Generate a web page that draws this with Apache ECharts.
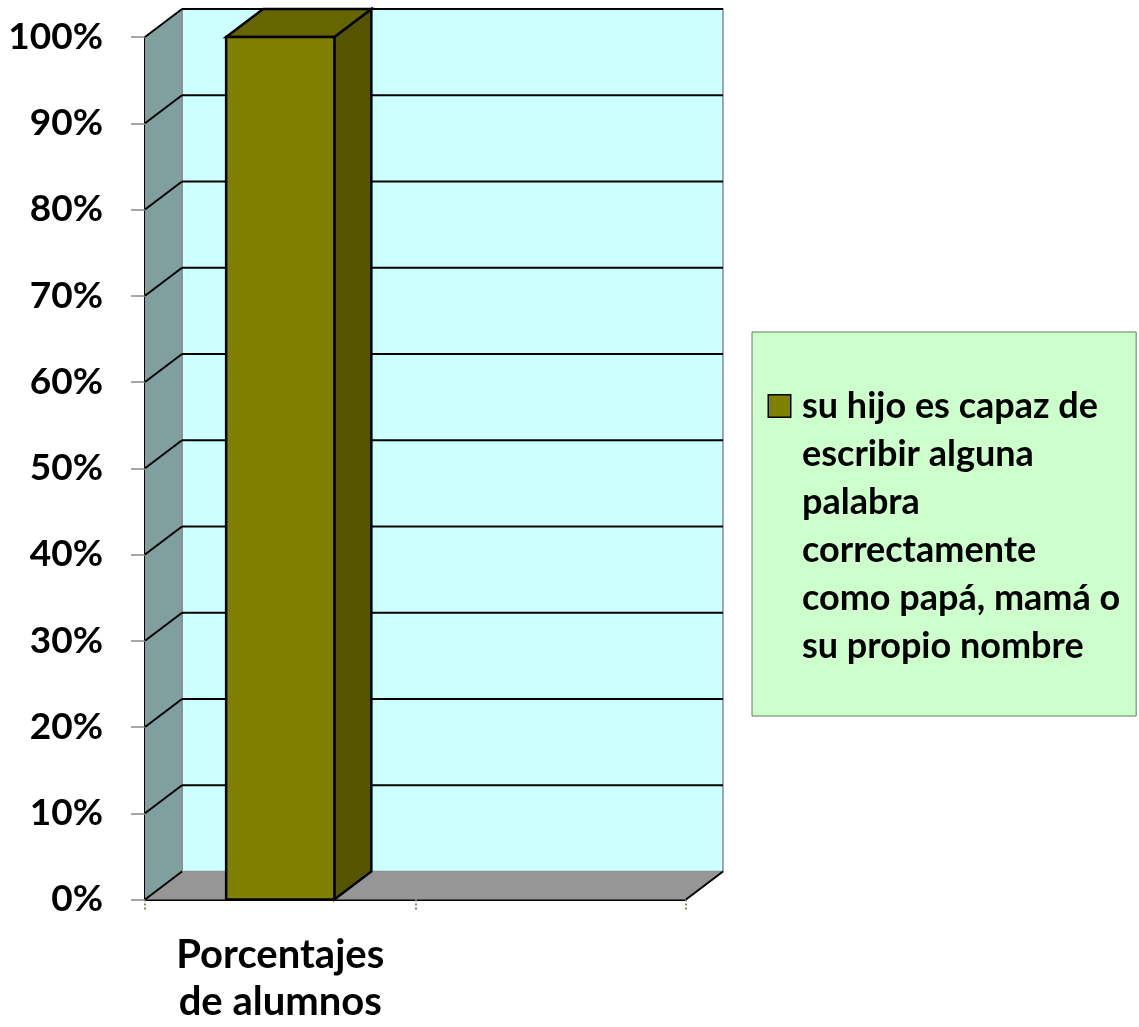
<!DOCTYPE html>
<html>
<head>
<meta charset="utf-8">
<script src="https://cdn.jsdelivr.net/npm/echarts@6/dist/echarts.min.js"></script>
<style>
html,body{margin:0;padding:0;background:#fff;}
#main{width:1139px;height:1027px;}
</style>
</head>
<body>
<div id="main"></div>
<script>
// ---- data ----
const categories = ['Porcentajes\nde alumnos', ''];
const seriesName = 'su hijo es capaz de escribir alguna palabra correctamente como papá, mamá o su propio nombre';
const legendLines = ['su hijo es capaz de', 'escribir alguna', 'palabra', 'correctamente', 'como papá, mamá o', 'su propio nombre'];
const values = [1.0, null];
const yTicks = [0, 0.1, 0.2, 0.3, 0.4, 0.5, 0.6, 0.7, 0.8, 0.9, 1.0];
const yTickLabels = ['0%', '10%', '20%', '30%', '40%', '50%', '60%', '70%', '80%', '90%', '100%'];

// ---- style ----
const DX = 37, DY = -28;
const FONT = 'Lato';

const chart = echarts.init(document.getElementById('main'), null, {renderer: 'canvas'});

function wallsRender(params, api) {
  const cs = params.coordSys;
  const x0 = cs.x, x1 = cs.x + cs.width;
  const yb = api.coord([0, 0])[1];
  const yt = api.coord([0, 1])[1];
  const children = [];
  children.push({type: 'polygon', shape: {points: [[x0 + DX, yt + DY], [x1 + DX, yt + DY], [x1 + DX, yb + DY], [x0 + DX, yb + DY]]},
    style: {fill: '#CCFFFF', stroke: '#8a8a8a', lineWidth: 1.5}});
  children.push({type: 'polygon', shape: {points: [[x0, yt], [x0 + DX, yt + DY], [x0 + DX, yb + DY], [x0, yb]]},
    style: {fill: '#80A0A0', stroke: null}});
  children.push({type: 'polygon', shape: {points: [[x0, yb], [x0 + DX, yb + DY], [x1 + DX, yb + DY], [x1, yb]]},
    style: {fill: '#969696', stroke: null}});
  children.push({type: 'line', shape: {x1: x0 + DX, y1: yt + DY, x2: x0 + DX, y2: yb + DY}, style: {stroke: '#8a8a8a', lineWidth: 1.5}});
  yTicks.forEach(function (v) {
    const y = api.coord([0, v])[1];
    if (v > 0) {
      children.push({type: 'line', shape: {x1: x0 + DX, y1: y + DY, x2: x1 + DX, y2: y + DY}, style: {stroke: '#000', lineWidth: 2}});
    }
    children.push({type: 'line', shape: {x1: x0, y1: y, x2: x0 + DX, y2: y + DY}, style: {stroke: '#000', lineWidth: 2}});
  });
  children.push({type: 'line', shape: {x1: x1, y1: yb, x2: x1 + DX, y2: yb + DY}, style: {stroke: '#000', lineWidth: 2}});
  return {type: 'group', children: children};
}

function barRender(params, api) {
  const idx = api.value(0);
  const v = api.value(1);
  if (v == null || isNaN(v)) return null;
  const top = api.coord([idx, v]);
  const bot = api.coord([idx, 0]);
  const w = api.size([1, 0])[0] * 0.4;
  const xl = top[0] - w / 2, xr = top[0] + w / 2;
  const yt = top[1], yb = bot[1];
  const st = {stroke: '#000', lineWidth: 2.5, lineJoin: 'miter'};
  return {type: 'group', children: [
    {type: 'polygon', shape: {points: [[xr, yt], [xr + DX, yt + DY], [xr + DX, yb + DY], [xr, yb]]},
      style: Object.assign({fill: '#555500'}, st)},
    {type: 'polygon', shape: {points: [[xl, yt], [xl + DX, yt + DY], [xr + DX, yt + DY], [xr, yt]]},
      style: Object.assign({fill: '#666600'}, st)},
    {type: 'rect', shape: {x: xl, y: yt, width: w, height: yb - yt},
      style: Object.assign({fill: '#808000'}, st)}
  ]};
}

const legendText = legendLines.map(function (l, i) {
  return i === 0 ? '{box|}{gap|}{t|' + l + '}' : '{sp|}{t|' + l + '}';
}).join('\n');

chart.setOption({
  animation: false,
  backgroundColor: '#ffffff',
  grid: {left: 145, top: 37, width: 541, height: 862.5, containLabel: false, outerBoundsMode: 'none'},
  legend: {
    left: 752, top: 332,
    orient: 'vertical',
    icon: 'none',
    itemWidth: 12, itemHeight: 12,
    backgroundColor: '#CCFFCC',
    borderColor: '#5f7f5f', borderWidth: 1,
    padding: [50, 16, 46, 0],
    data: [seriesName],
    formatter: function () { return legendText; },
    textStyle: {
      fontFamily: FONT, fontWeight: 'bold', fontSize: 36, color: '#000', lineHeight: 48,
      rich: {
        box: {width: 21, height: 21, backgroundColor: '#808000', borderColor: '#000', borderWidth: 1.5},
        gap: {width: 12},
        sp: {width: 33},
        t: {fontFamily: FONT, fontWeight: 'bold', fontSize: 36, color: '#000', lineHeight: 48}
      }
    }
  },
  xAxis: {
    type: 'category',
    data: categories,
    boundaryGap: true,
    axisLine: {show: true, lineStyle: {color: '#000', width: 2}},
    axisTick: {show: true, alignWithLabel: false, length: 12, lineStyle: {color: '#8c8c6c', width: 2, type: 'dotted'}},
    axisLabel: {margin: 32, fontFamily: FONT, fontWeight: 'bold', fontSize: 40, color: '#000', lineHeight: 47},
    splitLine: {show: false}
  },
  yAxis: {
    type: 'value',
    min: 0, max: 1, interval: 0.1,
    axisLine: {show: true, lineStyle: {color: '#000', width: 2}},
    axisTick: {show: true, length: 14, lineStyle: {color: '#8a8a8a', width: 1.5}},
    axisLabel: {
      margin: 42, fontFamily: FONT, fontWeight: 'bold', fontSize: 37, color: '#000',
      formatter: function (v) { const i = yTicks.findIndex(function (t) { return Math.abs(t - v) < 1e-9; }); return i >= 0 ? yTickLabels[i] : ''; }
    },
    splitLine: {show: false}
  },
  series: [
    {
      type: 'custom', name: '_walls', silent: true, z: 1,
      renderItem: wallsRender,
      data: [[0, 0]],
      encode: {x: 0, y: 1}
    },
    {
      type: 'custom', name: seriesName, z: 3,
      renderItem: barRender,
      itemStyle: {color: '#808000'},
      data: values.map(function (v, i) { return [i, v]; }),
      encode: {x: 0, y: 1}
    }
  ]
});
</script>
</body>
</html>
